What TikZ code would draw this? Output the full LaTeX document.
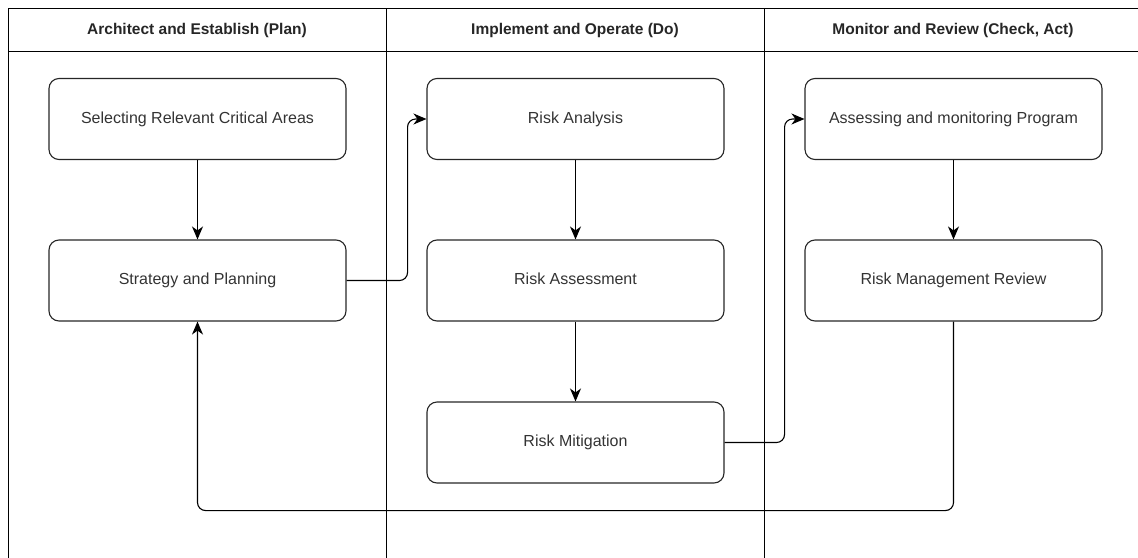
\documentclass[tikz,border=0pt]{standalone}
\usepackage{fontspec}
\setmainfont{Liberation Sans}
\usetikzlibrary{arrows.meta}
\definecolor{txt}{HTML}{333333}
\tikzset{
  frame/.style={draw=black, line width=1pt},
  proc/.style={draw=black!85, line width=1.1pt, rounded corners=10pt, minimum width=297pt, minimum height=81pt, inner sep=0pt, text=txt, text height=11.5pt, text depth=3.5pt, font=\fontsize{16}{19}\selectfont},
  hdr/.style={text=black!85, text height=11.5pt, text depth=3.5pt, font=\fontsize{15.5}{18}\selectfont\bfseries},
  conn/.style={draw=black, line width=1.1pt, rounded corners=8pt, -{Stealth[length=13pt,width=11pt,inset=4pt]}}
}
\begin{document}
\begin{tikzpicture}[x=1pt,y=-1pt]
\useasboundingbox (0,0) rectangle (1138,557);
\clip (0,0) rectangle (1138,557);
% frame
\draw[frame] (8,600) -- (8,8) -- (1160,8);
\draw[frame] (8,51) -- (1160,51);
\draw[frame] (386,8) -- (386,600);
\draw[frame] (764,8) -- (764,600);
% headers
\node[hdr] (h1) at (197,30) {Architect and Establish (Plan)};
\node[hdr] (h2) at (575,30) {Implement and Operate (Do)};
\node[hdr] (h3) at (953,30) {Monitor and Review (Check, Act)};
% boxes
\node[proc] (sel) at (197.5,119) {Selecting Relevant Critical Areas};
\node[proc] (str) at (197.5,280.5) {Strategy and Planning};
\node[proc] (ran) at (575.5,119) {Risk Analysis};
\node[proc] (ras) at (575.5,280.5) {Risk Assessment};
\node[proc] (rmi) at (575.5,442.5) {Risk Mitigation};
\node[proc] (amp) at (953.5,119) {Assessing and monitoring Program};
\node[proc] (rmr) at (953.5,280.5) {Risk Management Review};
% connectors
\draw[conn] (sel.south) -- (str.north);
\draw[conn] (ran.south) -- (ras.north);
\draw[conn] (ras.south) -- (rmi.north);
\draw[conn] (amp.south) -- (rmr.north);
\draw[conn] (str.east) -- ++(61,0) |- (ran.west);
\draw[conn] (rmi.east) -- ++(60,0) |- (amp.west);
\draw[conn] (rmr.south) -- ++(0,189) -| (str.south);
\end{tikzpicture}
\end{document}
